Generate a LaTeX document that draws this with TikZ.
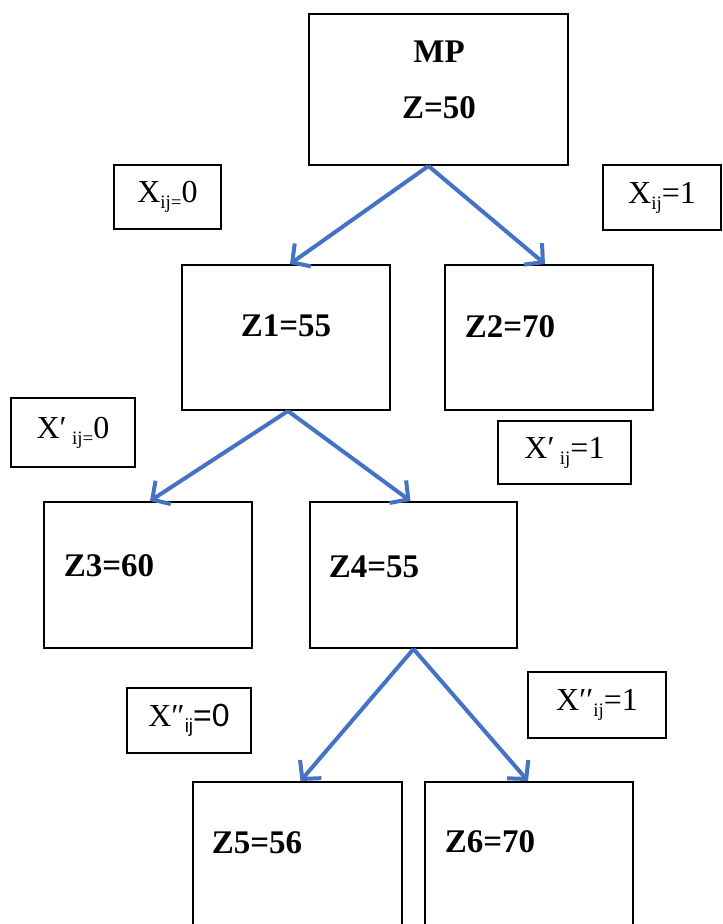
\documentclass[tikz,border=0pt]{standalone}
\usepackage{fontspec}
\setmainfont{Liberation Serif}
\newfontfamily\lsans{Liberation Sans}
\usetikzlibrary{arrows.meta}
\definecolor{arrowblue}{HTML}{4472C4}
\newcommand{\lbsub}[1]{{\fontsize{19}{19}\selectfont\raisebox{-6pt}{#1}}}
\tikzset{
  box/.style={draw, line width=2pt, inner sep=0pt},
  zt/.style={inner sep=0pt, font=\fontsize{33}{33}\selectfont\bfseries},
  lab/.style={draw, line width=2pt, inner sep=0pt, font=\fontsize{32}{32}\selectfont},
  branch/.style={draw=arrowblue, line width=4pt, -{Straight Barb[length=13pt,width=28pt,line width=4pt]}}
}
\begin{document}
\begin{tikzpicture}[x=1pt,y=-1pt]
\useasboundingbox (0,0) rectangle (723,924);
\clip (0,0) rectangle (723,924);
% main boxes
\node[box, minimum width=259pt, minimum height=151pt] (mp) at (438.5,89.5) {};
\node[box, minimum width=208pt, minimum height=145pt] (z1) at (286,337.5) {};
\node[box, minimum width=208pt, minimum height=145pt] (z2) at (549,337.5) {};
\node[box, minimum width=208pt, minimum height=146pt] (z3) at (148,575) {};
\node[box, minimum width=207pt, minimum height=146pt] (z4) at (413.5,575) {};
\node[box, minimum width=209pt, minimum height=178pt] (z5) at (297.5,871) {};
\node[box, minimum width=208pt, minimum height=178pt] (z6) at (529,871) {};
% box texts
\node[zt] (tmp) at (439,52) {MP};
\node[zt] (tz0) at (439,108) {Z=50};
\node[zt] (tz1) at (286,326) {Z1=55};
\node[zt] (tz2) at (510,327) {Z2=70};
\node[zt] (tz3) at (109,566) {Z3=60};
\node[zt] (tz4) at (374,567) {Z4=55};
\node[zt] (tz5) at (257,843) {Z5=56};
\node[zt] (tz6) at (490,842) {Z6=70};
% labels
\node[lab, minimum width=107pt, minimum height=64pt] (l1) at (167.5,197) {X\lbsub{ij=}0};
\node[lab, minimum width=118pt, minimum height=65pt] (l2) at (662,197.5) {X\lbsub{ij}=1};
\node[lab, minimum width=124pt, minimum height=69pt] (l3) at (73,432.5) {X\char"2032\,\lbsub{ij=}0};
\node[lab, minimum width=133pt, minimum height=63pt] (l4) at (564.5,452.5) {X\char"2032\,\lbsub{ij}=1};
\node[lab, minimum width=124pt, minimum height=65pt] (l5) at (189,720.5) {X\char"2033\lbsub{\lsans ij}{\lsans =0}};
\node[lab, minimum width=138pt, minimum height=66pt] (l6) at (597,705) {X\char"2032\char"2032\lbsub{ij}=1};
% arrows
\draw[branch] ([xshift=-10pt]mp.south) -- ([xshift=4pt]z1.north);
\draw[branch] ([xshift=-10pt]mp.south) -- ([xshift=-4pt]z2.north);
\draw[branch] ([xshift=2pt]z1.south) -- ([xshift=2pt]z3.north);
\draw[branch] ([xshift=2pt]z1.south) -- ([xshift=-3pt]z4.north);
\draw[branch] (z4.south) -- ([xshift=3pt]z5.north);
\draw[branch] (z4.south) -- ([xshift=-1pt]z6.north);
\end{tikzpicture}
\end{document}
